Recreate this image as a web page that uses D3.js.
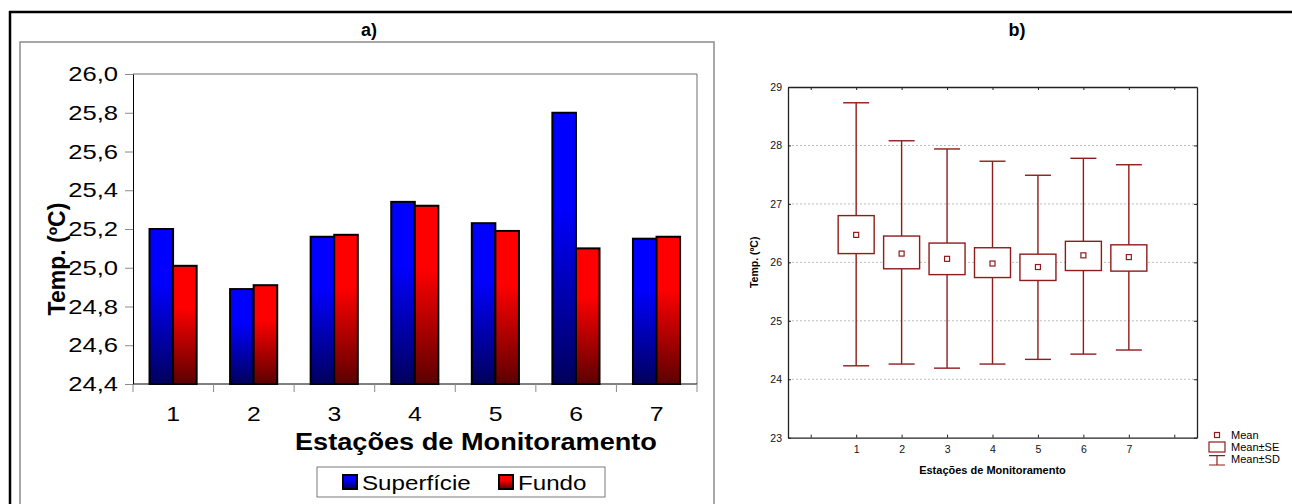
<!DOCTYPE html>
<html>
<head>
<meta charset="utf-8">
<script src="https://cdn.jsdelivr.net/npm/d3@7"></script>
<style>
body { margin: 0; background: #fff; }
text { font-family: 'Liberation Sans', Arial, sans-serif; }
</style>
</head>
<body>
<div class="chart"></div>
<script>
// panel a) - bar chart
const stations = ['1', '2', '3', '4', '5', '6', '7'];
const series = ['Superfície', 'Fundo'];
const superficie = [25.20, 24.89, 25.16, 25.34, 25.23, 25.80, 25.15];
const fundo = [25.01, 24.91, 25.17, 25.32, 25.19, 25.10, 25.16];
const yTicksA = [24.4, 24.6, 24.8, 25.0, 25.2, 25.4, 25.6, 25.8, 26.0];

// panel b) - mean / SE / SD plot
const boxStations = [1, 2, 3, 4, 5, 6, 7];
const meanB = [26.47, 26.15, 26.06, 25.98, 25.92, 26.12, 26.09];
const seLowB = [26.15, 25.89, 25.79, 25.74, 25.69, 25.86, 25.85];
const seHighB = [26.80, 26.45, 26.33, 26.25, 26.14, 26.36, 26.30];
const sdLowB = [24.23, 24.26, 24.19, 24.26, 24.34, 24.43, 24.50];
const sdHighB = [28.73, 28.08, 27.94, 27.73, 27.49, 27.78, 27.67];
const yTicksB = [23, 24, 25, 26, 27, 28, 29];
const xTicksB = [0, 1, 2, 3, 4, 5, 6, 7, 8];

const W = 1292, H = 504;
const svg = d3.select('.chart')
    .append('svg')
    .attr('width', W)
    .attr('height', H);

// the left chart in the source is stretched sideways a little
function stretch(sel, k) {
    sel.each(function() {
        const w = this.getComputedTextLength();
        d3.select(this)
            .attr('textLength', w * k)
            .attr('lengthAdjust', 'spacingAndGlyphs');
    });
}

const defs = svg.append('defs');
const grads = [
    {id: 'gBlue', top: '#0000ff', bottom: '#00005c'},
    {id: 'gRed', top: '#ff0000', bottom: '#5c0000'}
];
grads.forEach(g => {
    const lg = defs.append('linearGradient')
        .attr('id', g.id)
        .attr('x1', 0).attr('y1', 0).attr('x2', 0).attr('y2', 1);
    lg.append('stop').attr('offset', '0%').attr('stop-color', g.top);
    lg.append('stop').attr('offset', '35%').attr('stop-color', g.top);
    lg.append('stop').attr('offset', '100%').attr('stop-color', g.bottom);
});
const fillOf = {'Superfície': 'url(#gBlue)', 'Fundo': 'url(#gRed)'};

// outer frame
svg.append('line').attr('x1', 9).attr('x2', W).attr('y1', 12).attr('y2', 12)
    .attr('stroke', '#000').attr('stroke-width', 2.5);
svg.append('line').attr('x1', 10).attr('x2', 10).attr('y1', 11).attr('y2', H)
    .attr('stroke', '#000').attr('stroke-width', 2.5);

svg.append('text').attr('x', 369).attr('y', 36)
    .attr('text-anchor', 'middle').attr('font-weight', 'bold').attr('font-size', 18)
    .text('a)');
svg.append('text').attr('x', 1017).attr('y', 36)
    .attr('text-anchor', 'middle').attr('font-weight', 'bold').attr('font-size', 18)
    .text('b)');

// ---------- a) ----------
svg.append('rect')
    .attr('x', 20).attr('y', 42).attr('width', 694).attr('height', 480)
    .attr('fill', 'none').attr('stroke', '#8c8c8c').attr('stroke-width', 1.5);

const pa = {left: 133, top: 74, right: 697, bottom: 384};
const yA = d3.scaleLinear().domain([24.4, 26.0]).range([pa.bottom, pa.top]);
const x0 = d3.scaleBand().domain(stations).range([pa.left, pa.right]);
const bw = x0.bandwidth();
const x1 = d3.scaleBand().domain(series).range([bw * 0.205, bw * 0.79]);

// plot frame top / right
svg.append('path')
    .attr('d', `M${pa.left},${pa.top}H${pa.right}V${pa.bottom}`)
    .attr('fill', 'none').attr('stroke', '#6e6e6e').attr('stroke-width', 1);

const barData = stations.map((s, i) => ({station: s, values: [
    {key: 'Superfície', value: superficie[i]},
    {key: 'Fundo', value: fundo[i]}
]}));

svg.append('g').selectAll('g')
    .data(barData)
    .enter()
    .append('g')
    .attr('transform', d => 'translate(' + x0(d.station) + ',0)')
    .selectAll('rect')
    .data(d => d.values)
    .enter()
    .append('rect')
    .attr('x', d => x1(d.key))
    .attr('y', d => yA(d.value))
    .attr('width', x1.bandwidth())
    .attr('height', d => yA(24.4) - yA(d.value))
    .attr('fill', d => fillOf[d.key])
    .attr('stroke', '#000')
    .attr('stroke-width', 2);

const yAxisA = d3.axisLeft(yA)
    .tickValues(yTicksA)
    .tickFormat(d => d3.format('.1f')(d).replace('.', ','))
    .tickSize(8)
    .tickSizeOuter(0)
    .tickPadding(7);
const gya = svg.append('g')
    .attr('transform', 'translate(' + pa.left + ',0)')
    .call(yAxisA);
gya.select('.domain').attr('stroke', '#000');
gya.selectAll('.tick line').attr('stroke', '#8a8a8a');
gya.selectAll('.tick text').attr('font-size', 21).attr('fill', '#000')
    .attr('font-family', "'Liberation Sans', Arial, sans-serif")
    .call(stretch, 1.22);

// x axis: baseline, boundary ticks, centred labels
svg.append('line')
    .attr('x1', pa.left).attr('x2', pa.right)
    .attr('y1', pa.bottom).attr('y2', pa.bottom)
    .attr('stroke', '#000');
svg.append('g').selectAll('line')
    .data(stations.concat(['end']))
    .enter()
    .append('line')
    .attr('x1', d => d === 'end' ? pa.right : x0(d))
    .attr('x2', d => d === 'end' ? pa.right : x0(d))
    .attr('y1', pa.bottom).attr('y2', pa.bottom + 8)
    .attr('stroke', '#8a8a8a');
svg.append('g').selectAll('text')
    .data(stations)
    .enter()
    .append('text')
    .attr('x', d => x0(d) + bw / 2)
    .attr('y', 421)
    .attr('text-anchor', 'middle')
    .attr('font-size', 21)
    .text(d => d)
    .call(stretch, 1.18);

svg.append('text')
    .attr('x', 476).attr('y', 450)
    .attr('text-anchor', 'middle')
    .attr('font-weight', 'bold').attr('font-size', 23)
    .text('Estações de Monitoramento')
    .call(stretch, 1.18);

svg.append('text')
    .attr('transform', 'translate(65,259) rotate(-90)')
    .attr('text-anchor', 'middle')
    .attr('font-weight', 'bold').attr('font-size', 23)
    .text('Temp. (ºC)');

// legend a)
const legA = svg.append('g');
legA.append('rect')
    .attr('x', 317).attr('y', 467).attr('width', 288).attr('height', 30)
    .attr('fill', '#fff').attr('stroke', '#7a7a7a');
const legX = [343, 499];
legA.selectAll('.legendBlocks')
    .data(series)
    .enter()
    .append('rect')
    .attr('x', (d, i) => legX[i])
    .attr('y', 475)
    .attr('width', 14).attr('height', 14)
    .attr('fill', d => fillOf[d])
    .attr('stroke', '#000').attr('stroke-width', 2);
legA.selectAll('.legendText')
    .data(series)
    .enter()
    .append('text')
    .attr('x', (d, i) => legX[i] + 19)
    .attr('y', 490)
    .attr('font-size', 21)
    .text(d => d)
    .call(stretch, 1.15);

// ---------- b) ----------
const pb = {left: 788, top: 87, right: 1197, bottom: 437.7};
const xB = d3.scaleLinear().domain([-0.5, 8.5]).range([pb.left, pb.right]);
const yB = d3.scaleLinear().domain([23, 29]).range([pb.bottom, pb.top]);
const red = '#8e1c1c';

svg.append('g').selectAll('line')
    .data(yTicksB.slice(1, -1))
    .enter()
    .append('line')
    .attr('x1', pb.left).attr('x2', pb.right)
    .attr('y1', d => yB(d)).attr('y2', d => yB(d))
    .attr('stroke', '#bdbdbd').attr('stroke-dasharray', '2,2');

const axisStyle = g => {
    g.select('.domain').attr('stroke', '#222').attr('stroke-width', 1.3);
    g.selectAll('.tick line').attr('stroke', '#222');
    g.selectAll('.tick text').attr('font-size', 10.5).attr('fill', '#111')
        .attr('font-family', "'Liberation Sans', Arial, sans-serif");
};
svg.append('g').attr('transform', 'translate(' + pb.left + ',0)')
    .call(d3.axisLeft(yB).tickValues(yTicksB).tickFormat(d3.format('d'))
        .tickSize(-3).tickSizeOuter(0).tickPadding(6))
    .call(axisStyle);
svg.append('g').attr('transform', 'translate(' + pb.right + ',0)')
    .call(d3.axisRight(yB).tickValues(yTicksB).tickSize(-3).tickSizeOuter(0).tickFormat(''))
    .call(axisStyle);
svg.append('g').attr('transform', 'translate(0,' + pb.top + ')')
    .call(d3.axisTop(xB).tickValues(xTicksB).tickSize(-3).tickSizeOuter(0).tickFormat(''))
    .call(axisStyle);
svg.append('g').attr('transform', 'translate(0,' + pb.bottom + ')')
    .call(d3.axisBottom(xB).tickValues(xTicksB).tickSize(-3).tickSizeOuter(0).tickPadding(8)
        .tickFormat(d => (d >= 1 && d <= 7) ? d : ''))
    .call(axisStyle);

const boxData = boxStations.map((s, i) => ({
    s: s, mean: meanB[i], seLo: seLowB[i], seHi: seHighB[i], sdLo: sdLowB[i], sdHi: sdHighB[i]
}));
const boxW = 36, capW = 26, mk = 5;
const boxes = svg.append('g').selectAll('g')
    .data(boxData)
    .enter()
    .append('g');
boxes.append('line')
    .attr('x1', d => xB(d.s)).attr('x2', d => xB(d.s))
    .attr('y1', d => yB(d.sdHi)).attr('y2', d => yB(d.sdLo))
    .attr('stroke', red).attr('stroke-width', 1.4);
boxes.selectAll('.cap')
    .data(d => [{s: d.s, v: d.sdHi}, {s: d.s, v: d.sdLo}])
    .enter()
    .append('line')
    .attr('x1', d => xB(d.s) - capW / 2).attr('x2', d => xB(d.s) + capW / 2)
    .attr('y1', d => yB(d.v)).attr('y2', d => yB(d.v))
    .attr('stroke', red).attr('stroke-width', 1.4);
boxes.append('rect')
    .attr('x', d => xB(d.s) - boxW / 2)
    .attr('y', d => yB(d.seHi))
    .attr('width', boxW)
    .attr('height', d => yB(d.seLo) - yB(d.seHi))
    .attr('fill', '#fff').attr('stroke', red).attr('stroke-width', 1.4);
boxes.append('rect')
    .attr('x', d => xB(d.s) - mk / 2)
    .attr('y', d => yB(d.mean) - mk / 2)
    .attr('width', mk).attr('height', mk)
    .attr('fill', '#fff').attr('stroke', red).attr('stroke-width', 1.2);

svg.append('text')
    .attr('x', (pb.left + pb.right) / 2).attr('y', 474)
    .attr('text-anchor', 'middle')
    .attr('font-weight', 'bold').attr('font-size', 11)
    .text('Estações de Monitoramento');
svg.append('text')
    .attr('transform', 'translate(758,' + (pb.top + pb.bottom) / 2 + ') rotate(-90)')
    .attr('text-anchor', 'middle')
    .attr('font-weight', 'bold').attr('font-size', 10.5)
    .text('Temp. (ºC)');

// legend b)
const legB = svg.append('g');
legB.append('rect').attr('x', 1214.5).attr('y', 432.5).attr('width', 5).attr('height', 5)
    .attr('fill', '#fff').attr('stroke', red).attr('stroke-width', 1.2);
legB.append('rect').attr('x', 1209).attr('y', 442).attr('width', 16).attr('height', 10)
    .attr('fill', '#fff').attr('stroke', red).attr('stroke-width', 1.2);
legB.append('path').attr('d', 'M1209,455.7H1225M1217,455.7V465M1209,465H1225')
    .attr('fill', 'none').attr('stroke', red).attr('stroke-width', 1.2);
legB.selectAll('text')
    .data(['Mean', 'Mean±SE', 'Mean±SD'])
    .enter()
    .append('text')
    .attr('x', 1231)
    .attr('y', (d, i) => 439 + i * 12)
    .attr('font-size', 11)
    .text(d => d);
</script>
</body>
</html>
